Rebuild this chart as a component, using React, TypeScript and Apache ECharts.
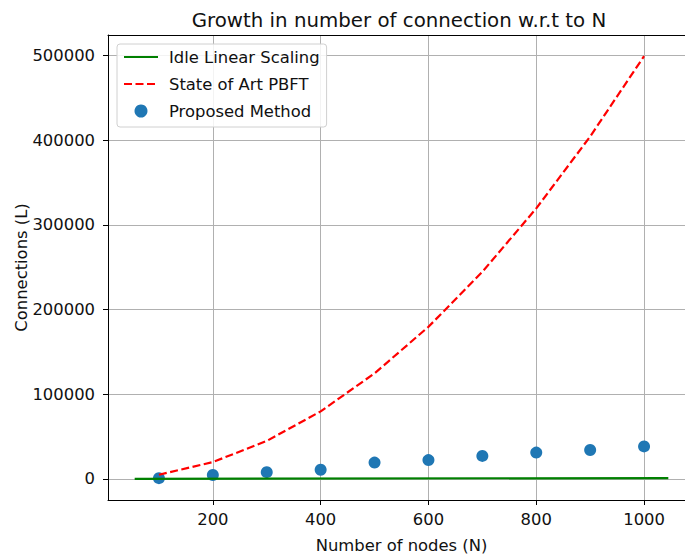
import React, { useEffect, useRef } from "react";
import * as echarts from "echarts";

const titleText = "Growth in number of connection w.r.t to N";
const nodeCounts = [100, 200, 300, 400, 500, 600, 700, 800, 900, 1000];
const pbftConnections = [4950, 19900, 44850, 79800, 124750, 179700, 244650, 319600, 404550, 499500];
const proposedConnections = [900, 4700, 8000, 10800, 19300, 22200, 27200, 31100, 34200, 38400];
const idleX = [55, 1045];
const idleY = [55, 1045];
const xTicks = [200, 400, 600, 800, 1000];
const yTicks = [0, 100000, 200000, 300000, 400000, 500000];
const xRange = [5.5, 1094.5];
const yRange = [-24917, 524472];

const FONT = "DejaVu Sans";
const FS = 16.4;

export default function App() {
  const ref = useRef<HTMLDivElement>(null);
  useEffect(() => {
    if (!ref.current) return;
    const chart = echarts.init(ref.current, undefined, { renderer: "svg" });
    chart.setOption({
      animation: false,
      backgroundColor: "#ffffff",
      textStyle: { fontFamily: FONT },
      title: {
        text: titleText,
        left: 394,
        textAlign: "center",
        top: 5,
        textStyle: { fontFamily: FONT, fontSize: 19.8, fontWeight: "normal", color: "#111" },
      },
      grid: {
        left: 108,
        top: 35,
        width: 587,
        height: 465,
        outerBoundsMode: "none",
        containLabel: false,
        show: false,
      },
      legend: {
        orient: "vertical",
        left: 117,
        top: 44,
        padding: [5, 7, 8, 6],
        itemGap: 11,
        itemWidth: 34,
        itemHeight: 13,
        backgroundColor: "rgba(255,255,255,0.85)",
        borderColor: "#d0d0d0",
        borderWidth: 1,
        borderRadius: 3,
        textStyle: { fontFamily: FONT, fontSize: FS, color: "#111", lineHeight: 16, padding: [0, 0, 0, 6] },
        data: [
          { name: "Idle Linear Scaling", itemStyle: { opacity: 0 } },
          { name: "State of Art PBFT", itemStyle: { opacity: 0 } },
          { name: "Proposed Method" },
        ],
      },
      xAxis: [
        {
          type: "value",
          min: xRange[0],
          max: xRange[1],
          name: "Number of nodes (N)",
          nameLocation: "middle",
          nameGap: 37,
          nameTextStyle: { fontFamily: FONT, fontSize: FS, color: "#111" },
          axisLine: { show: true, onZero: false, lineStyle: { color: "#000", width: 1 } },
          axisTick: { show: true, length: 5, customValues: xTicks, lineStyle: { color: "#000" } },
          axisLabel: {
            customValues: xTicks,
            margin: 11,
            fontFamily: FONT,
            fontSize: FS,
            color: "#111",
            formatter: (v: number) => String(v),
          },
          splitLine: { show: true, lineStyle: { color: "#b0b0b0", width: 1 } },
        },
        {
          type: "value",
          position: "top",
          min: xRange[0],
          max: xRange[1],
          axisLine: { show: true, onZero: false, lineStyle: { color: "#000", width: 1 } },
          axisTick: { show: false },
          axisLabel: { show: false },
          splitLine: { show: false },
        },
      ],
      yAxis: {
        type: "value",
        min: yRange[0],
        max: yRange[1],
        name: "Connections (L)",
        nameLocation: "middle",
        nameGap: 79,
        nameMoveOverlap: false,
        nameTextStyle: { fontFamily: FONT, fontSize: FS, color: "#111" },
        axisLine: { show: true, onZero: false, lineStyle: { color: "#000", width: 1 } },
        axisTick: { show: true, length: 5, customValues: yTicks, lineStyle: { color: "#000" } },
        axisLabel: {
          customValues: yTicks,
          margin: 13,
          fontFamily: FONT,
          fontSize: FS,
          color: "#111",
          formatter: (v: number) => String(v),
        },
        splitLine: { show: true, lineStyle: { color: "#b0b0b0", width: 1 } },
      },
      series: [
        {
          name: "Proposed Method",
          type: "scatter",
          z: 1,
          symbol: "circle",
          symbolSize: 12,
          itemStyle: { color: "#1f77b4", opacity: 1 },
          data: nodeCounts.map((n, i) => [n, proposedConnections[i]]),
        },
        {
          name: "Idle Linear Scaling",
          type: "line",
          z: 3,
          symbol: "none",
          lineStyle: { color: "#008000", width: 2.2 },
          itemStyle: { color: "#008000" },
          data: idleX.map((x, i) => [x, idleY[i]]),
        },
        {
          name: "State of Art PBFT",
          type: "line",
          z: 3,
          symbol: "none",
          lineStyle: { color: "#ff0000", width: 2.2, type: [8, 3.5] },
          itemStyle: { color: "#ff0000" },
          data: nodeCounts.map((n, i) => [n, pbftConnections[i]]),
        },
      ],
    });
    return () => chart.dispose();
  }, []);
  return (
    <div
      ref={ref}
      style={{ position: "absolute", left: 0, top: 0, width: 685, height: 556 }}
    />
  );
}
